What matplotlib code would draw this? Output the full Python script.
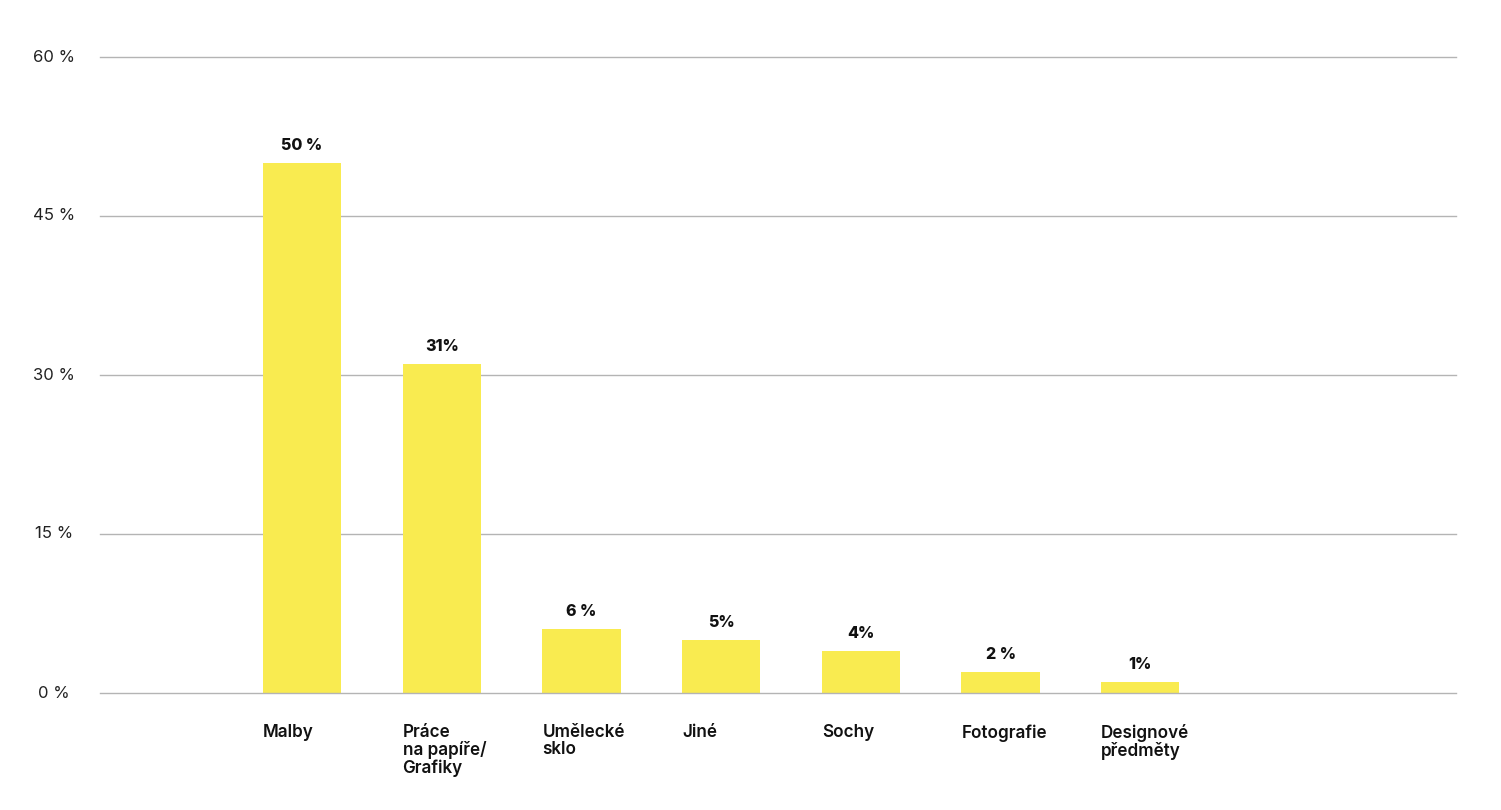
import matplotlib
matplotlib.use("Agg")
import matplotlib.pyplot as plt
import matplotlib.transforms as mtransforms

categories = ["Malby", "Práce\nna papíře/\nGrafiky", "Umělecké\nsklo", "Jiné", "Sochy", "Fotografie", "Designové\npředměty"]
values = [50, 31, 6, 5, 4, 2, 1]
value_labels = ["50 %", "31%", "6 %", "5%", "4%", "2 %", "1%"]
y_ticks = [0, 15, 30, 45, 60]
y_tick_labels = ["0 %", "15 %", "30 %", "45 %", "60 %"]

plt.rcParams['font.family'] = ['Inter', 'DejaVu Sans']

W, H = 1501, 810
fig = plt.figure(figsize=(W / 100, H / 100), dpi=100)
ax = fig.add_axes([100 / W, (H - 693) / H, (1456 - 100) / W, (693 - 57) / H])

x = list(range(len(categories)))
bw = 0.56
ax.bar(x, values, width=bw, color="#F9EB50", zorder=2)
ax.set_xlim(-1.446, 8.26)
ax.set_ylim(0, 60)

for yt in y_ticks:
    ax.axhline(yt, color="#b4b4b4", linewidth=1.0, zorder=3 if yt == 0 else 1,
               clip_on=False)

for s in ax.spines.values():
    s.set_visible(False)
ax.set_xticks([])
ax.set_yticks([])

# y tick labels
ytrans = mtransforms.blended_transform_factory(fig.transFigure, ax.transData)
for yt, lab in zip(y_ticks, y_tick_labels):
    ax.text(54 / W, yt, lab, transform=ytrans, ha="center", va="center",
            fontsize=12, color="#222222")

# value labels
off = mtransforms.offset_copy(ax.transData, fig=fig, x=0, y=10, units="dots")
for xi, v, lab in zip(x, values, value_labels):
    ax.text(xi, v, lab, transform=off, ha="center", va="bottom",
            fontsize=11.5, fontweight="heavy", color="#111111")

# category labels
ctrans = mtransforms.blended_transform_factory(ax.transData, fig.transFigure)
for xi, lab in zip(x, categories):
    ax.text(xi - bw / 2, (H - 724) / H, lab, transform=ctrans, ha="left", va="top",
            fontsize=12.3, fontweight="semibold", color="#111111", linespacing=1.02)

fig.savefig("out.png", dpi=100, facecolor="white")
